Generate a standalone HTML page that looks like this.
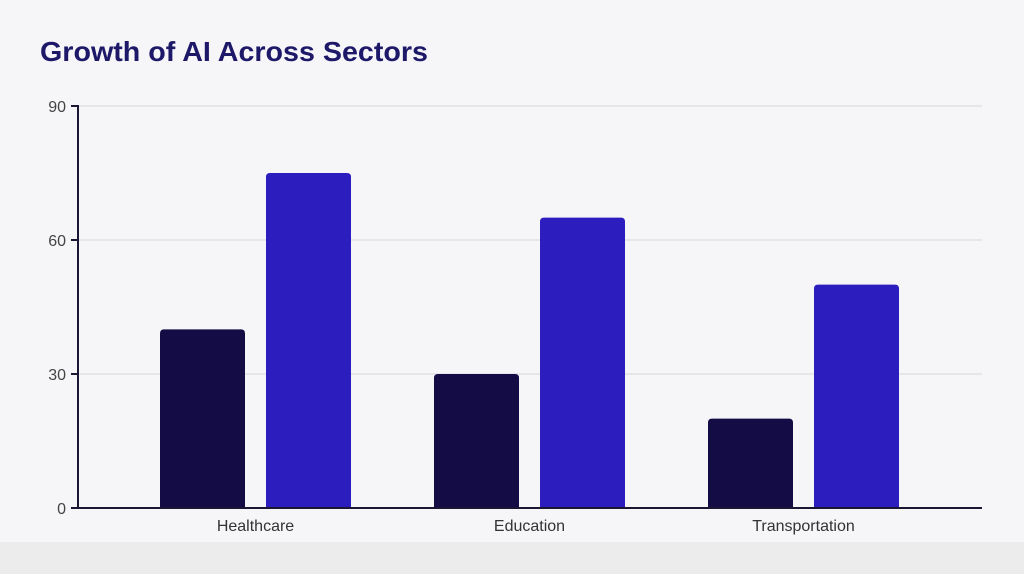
<!DOCTYPE html>
<html><head><meta charset="utf-8"><style>
html,body{margin:0;padding:0;}
body{width:1024px;height:574px;background:#f6f6f9;overflow:hidden;position:relative;font-family:"Liberation Sans",sans-serif;}
#band{position:absolute;left:0;top:542px;width:1024px;height:32px;background:#ececec;}
</style></head><body>
<div id="band"></div>
<svg id="chart" width="1024" height="574" style="position:absolute;left:0;top:0">
<text x="40" y="61" font-size="28" font-weight="bold" fill="#1e1868" textLength="388" lengthAdjust="spacingAndGlyphs">Growth of AI Across Sectors</text>
</svg>
<script>
const categories = ["Healthcare","Education","Transportation"];
const seriesBase = [40,30,20];
const seriesGrowth = [75,65,50];
const yTicks = [0,30,60,90];
const NS="http://www.w3.org/2000/svg";
const svg=document.getElementById('chart');
const y0=508, yTop=106, yMax=90;
function yScale(v){return y0-(v/yMax)*(y0-yTop);}
function xCenter(i){return 255.5+274*i;}
function mk(tag,attrs){const e=document.createElementNS(NS,tag);for(const k in attrs)e.setAttribute(k,attrs[k]);svg.appendChild(e);return e;}
function barPath(x,y,w,h,r){return `M${x},${y+h}V${y+r}Q${x},${y} ${x+r},${y}H${x+w-r}Q${x+w},${y} ${x+w},${y+r}V${y+h}Z`;}
yTicks.forEach(t=>{
  const y=yScale(t);
  if(t>0){const g=mk('line',{x1:78,x2:982,y1:y,y2:y,stroke:'#d4d4dc','stroke-width':1});
  
  }
  const tk=mk('line',{x1:71,x2:78,y1:y,y2:y,stroke:'#1a1633','stroke-width':2});
  
  
  const tx=mk('text',{x:66,y:y+6,'font-size':16,fill:'#444','text-anchor':'end'});
  tx.textContent=t;
  
  
});
categories.forEach((c,i)=>{
  const cx=xCenter(i);
  const yb=yScale(seriesBase[i]);
  const b1=mk('path',{d:barPath(cx-95.5,yb,85,y0-yb,4),fill:'#130c45'});
  
  
  const yg=yScale(seriesGrowth[i]);
  const b2=mk('path',{d:barPath(cx+10.5,yg,85,y0-yg,4),fill:'#2c1dbf'});
  
  
  const t=mk('text',{x:cx,y:531,'font-size':16,fill:'#333','text-anchor':'middle'});
  t.textContent=c;
  
  
});
const ya=mk('line',{x1:78,x2:78,y1:105,y2:509,stroke:'#1a1633','stroke-width':2});


const xa=mk('line',{x1:77,x2:982,y1:508,y2:508,stroke:'#1a1633','stroke-width':2});


</script>
</body></html>
